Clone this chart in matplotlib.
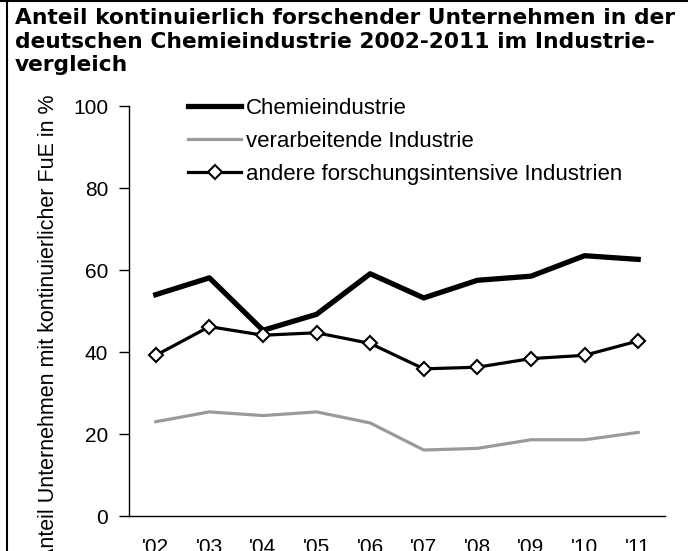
import numpy as np
import matplotlib
matplotlib.use('Agg')
import matplotlib.pyplot as plt
from matplotlib.lines import Line2D

jahre = ["'02", "'03", "'04", "'05", "'06", "'07", "'08", "'09", "'10", "'11"]
chemie = [54.0, 58.1, 45.3, 49.2, 59.1, 53.2, 57.5, 58.5, 63.5, 62.6]
verarbeitend = [23.0, 25.4, 24.5, 25.4, 22.7, 16.1, 16.5, 18.6, 18.6, 20.4]
andere = [39.2, 46.2, 44.1, 44.7, 42.1, 35.9, 36.3, 38.4, 39.2, 42.7]
yticks = [0, 20, 40, 60, 80, 100]

titel = ("Anteil kontinuierlich forschender Unternehmen in der\n"
         "deutschen Chemieindustrie 2002-2011 im Industrie-\n"
         "vergleich")
ylabel = "Anteil Unternehmen mit kontinuierlicher FuE in %"

plt.rcParams['font.family'] = ['Liberation Sans', 'DejaVu Sans']

fig = plt.figure(figsize=(6.88, 5.51), dpi=100)
ax = fig.add_axes([0.1875, 0.0635, 0.779, 0.744])

x = np.arange(len(jahre))
ax.plot(x, chemie, '-', color='black', lw=3.8, label='Chemieindustrie')
ax.plot(x, verarbeitend, '-', color='#9a9a9a', lw=2.3, label='verarbeitende Industrie')
ax.plot(x, andere, '-', color='black', lw=2.3, marker='D', markersize=7,
        markerfacecolor='white', markeredgecolor='black', markeredgewidth=1.5,
        label='andere forschungsintensive Industrien')

ax.set_xlim(-0.5, 9.5)
ax.set_ylim(0, 100)
ax.set_xticks(x)
ax.set_xticklabels(jahre, fontsize=15)
ax.set_yticks(yticks)
ax.set_yticklabels([str(v) for v in yticks], fontsize=15)
ax.tick_params(axis='x', length=0, pad=16)
ax.tick_params(axis='y', direction='out', length=7, width=1, pad=8)
ax.spines['top'].set_visible(False)
ax.spines['right'].set_visible(False)
ax.spines['left'].set_linewidth(1)
ax.spines['bottom'].set_linewidth(1)

leg = ax.legend(loc='upper left', bbox_to_anchor=(188 / 688, 1 - 98 / 551),
                bbox_transform=fig.transFigure, frameon=False, fontsize=16,
                handlelength=2.4, handletextpad=0.2, labelspacing=0.54,
                borderpad=0, borderaxespad=0)

fig.text(0.022, 0.985, titel, ha='left', va='top', fontsize=15.7,
         fontweight='bold', family=['DejaVu Sans'], linespacing=1.22)
fig.text(0.071, 1 - 95 / 551, ylabel, rotation=90, ha='center', va='top',
         fontsize=15.5)

# Rahmen links und oben
fig.add_artist(Line2D([7 / 688, 7 / 688], [0, 1], color='black', lw=1.5,
                      transform=fig.transFigure))
fig.add_artist(Line2D([0, 1], [1 - 1 / 551, 1 - 1 / 551], color='black', lw=1.5,
                      transform=fig.transFigure))

plt.savefig('out.png', dpi=100)
